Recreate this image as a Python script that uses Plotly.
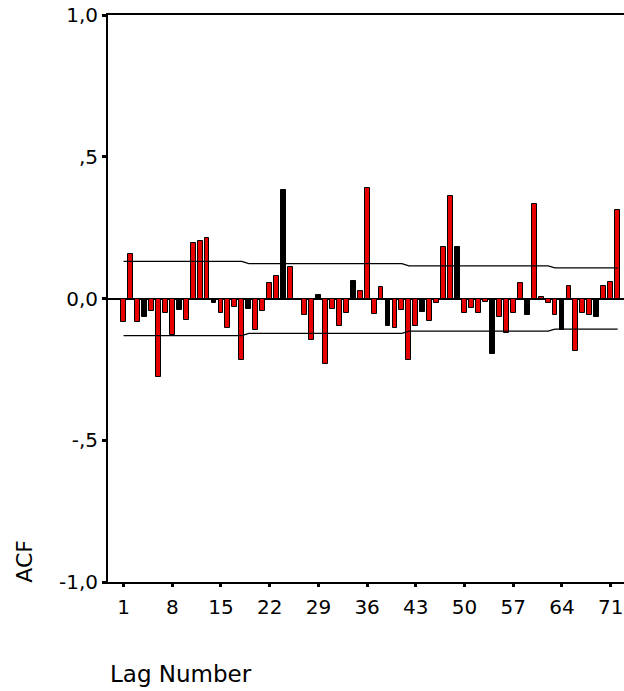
import plotly.graph_objects as go

# ---- data ----
lags = list(range(1, 73))
acf_values = [
    -0.084, 0.156, -0.084, -0.065, -0.043, -0.278, -0.051, -0.128, -0.039, -0.077,
    0.197, 0.203, 0.213, -0.015, -0.051, -0.103, -0.030, -0.216, -0.038, -0.110,
    -0.044, 0.054, 0.080, 0.381, 0.110, -0.005, -0.058, -0.147, 0.012, -0.230,
    -0.038, -0.096, -0.052, 0.063, 0.027, 0.391, -0.053, 0.042, -0.097, -0.103,
    -0.039, -0.218, -0.096, -0.047, -0.080, -0.017, 0.181, 0.361, 0.181, -0.052,
    -0.035, -0.051, -0.013, -0.194, -0.066, -0.120, -0.052, 0.055, -0.058, 0.333,
    0.007, -0.016, -0.057, -0.110, 0.044, -0.185, -0.051, -0.059, -0.065, 0.044,
    0.058, 0.311,
]
# bars that render fully black in the reference
black_lags = [4, 9, 14, 19, 24, 29, 34, 39, 44, 49, 54, 59, 64, 69]
# confidence limits per lag (read as pixel steps)
conf_limit = [0.131] * 18 + [0.123] * 23 + [0.115] * 21 + [0.108] * 10

x_tick_vals = [1, 8, 15, 22, 29, 36, 43, 50, 57, 64, 71]
x_tick_text = [str(v) for v in x_tick_vals]
y_tick_vals = [-1.0, -0.5, 0.0, 0.5, 1.0]
y_tick_text = ["-1,0", "-,5", "0,0", ",5", "1,0"]

FONT = "DejaVu Sans, Liberation Sans, Arial, sans-serif"
RED = "#e80000"

bar_colors = ["black" if l in black_lags else RED for l in lags]

fig = go.Figure()
fig.add_trace(go.Bar(
    x=lags, y=acf_values, width=0.7,
    marker=dict(color=bar_colors, line=dict(color="black", width=1)),
    showlegend=False,
))
fig.add_trace(go.Scatter(
    x=lags, y=conf_limit, mode="lines",
    line=dict(color="black", width=1.2), showlegend=False,
))
fig.add_trace(go.Scatter(
    x=lags, y=[-v for v in conf_limit], mode="lines",
    line=dict(color="black", width=1.2), showlegend=False,
))

fig.update_layout(
    width=624, height=691,
    margin=dict(l=108, r=0, t=15, b=109),
    paper_bgcolor="white", plot_bgcolor="white",
    font=dict(family=FONT, size=20, color="black"),
    bargap=0,
    annotations=[
        dict(text="ACF", xref="paper", yref="paper", x=-0.161, y=-0.004,
             xanchor="center", yanchor="bottom", textangle=-90, showarrow=False,
             font=dict(family=FONT, size=22, color="black")),
        dict(text="Lag Number", xref="paper", yref="paper", x=0.0, y=-0.163,
             xanchor="left", yanchor="middle", showarrow=False,
             font=dict(family=FONT, size=23, color="black")),
    ],
)
fig.update_xaxes(
    range=[-1.23, 72.91], tickvals=x_tick_vals, ticktext=x_tick_text,
    showline=True, linecolor="black", linewidth=2, mirror=True,
    ticks="outside", ticklen=3, tickwidth=3, tickcolor="black",
    ticklabelstandoff=3,
    showgrid=False, zeroline=False,
)
fig.update_yaxes(
    range=[-1.0, 1.0], tickvals=y_tick_vals, ticktext=y_tick_text,
    showline=True, linecolor="black", linewidth=2, mirror=False,
    ticks="outside", ticklen=4, tickwidth=3, tickcolor="black",
    showgrid=False, zeroline=True, zerolinecolor="black", zerolinewidth=1.5,
)

fig.write_html("out.html")
